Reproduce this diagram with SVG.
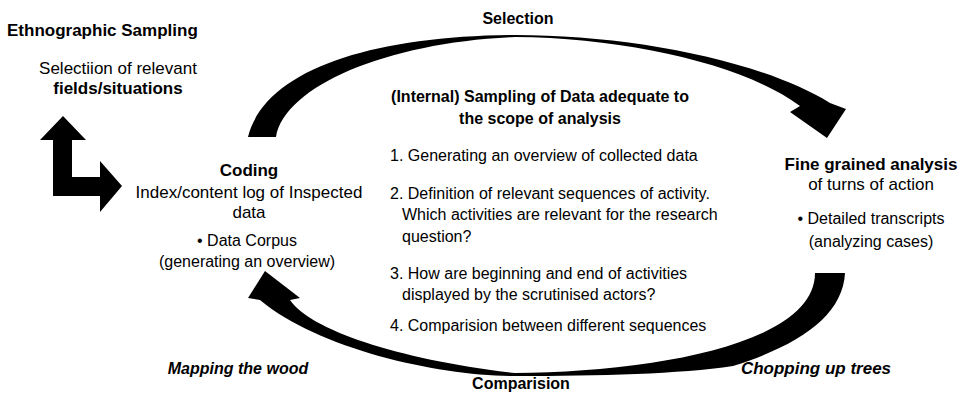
<svg xmlns="http://www.w3.org/2000/svg" width="962" height="394" viewBox="0 0 962 394">
<style>
text{font-family:"Liberation Sans",Arial,sans-serif;fill:#000}
.b{font-weight:bold}
.bi{font-weight:bold;font-style:italic}
.s16{font-size:16px}
.s17{font-size:17px}
.c{text-anchor:middle}
.arrow{fill:#000;stroke:none}
</style>
<rect width="962" height="394" fill="#fff"/>
<g id="connectors">
<path class="arrow" d="M248,137 C265,70 370,36 515,35 C630,35 760,60 830,103 L846,109 L827,138 L790,112 L800,106 C745,65 630,38 515,37 C390,42 285,85 276,137 Z"/>
<path class="arrow" d="M845,273 C843,315 800,345 733,366 C680,374 600,376 515,376 C440,376 320,350 260,300 L248,298 L265,271 L300,298 L290,300 C310,330 400,360 515,373 C650,372 815,345 815,273 Z"/>
<path class="arrow" d="M63,116 L86,140 L72,140 L72,177 L100,177 L100,161 L122,186 L100,212 L100,196 L53,196 L53,140 L40,140 Z"/>
</g>
<g id="ethnographic">
<text class="b s17" x="7" y="36">Ethnographic Sampling</text>
<text class="s17 c" x="118" y="74">Selectiion of relevant</text>
<text class="b s17 c" x="118" y="94">fields/situations</text>
</g>
<g id="selection"><text class="b s16 c" x="518" y="24">Selection</text></g>
<g id="internal">
<text class="b s16 c" x="540" y="102">(Internal) Sampling of Data adequate to</text>
<text class="b s16 c" x="540" y="124">the scope of analysis</text>
<text class="s16" x="390" y="161">1. Generating an overview of collected data</text>
<text class="s16" x="390" y="199">2. Definition of relevant sequences of activity.</text>
<text class="s16" x="402" y="220">Which activities are relevant for the research</text>
<text class="s16" x="402" y="242">question?</text>
<text class="s16" x="390" y="279">3. How are beginning and end of activities</text>
<text class="s16" x="402" y="300">displayed by the scrutinised actors?</text>
<text class="s16" x="390" y="331">4. Comparision between different sequences</text>
</g>
<g id="coding">
<text class="b s17 c" x="249" y="176">Coding</text>
<text class="s17 c" x="249" y="198">Index/content log of Inspected</text>
<text class="s17 c" x="249" y="218">data</text>
<text class="s16 c" x="247" y="246">• Data Corpus</text>
<text class="s16 c" x="247" y="267">(generating an overview)</text>
</g>
<g id="fine">
<text class="b s17 c" x="871" y="170">Fine grained analysis</text>
<text class="s17 c" x="871" y="190">of turns of action</text>
<text class="s16 c" x="871" y="224">• Detailed transcripts</text>
<text class="s16 c" x="871" y="247">(analyzing cases)</text>
</g>
<g id="mapping"><text class="bi s16 c" x="238" y="374">Mapping the wood</text></g>
<g id="comparision"><text class="b s16 c" x="521" y="389">Comparision</text></g>
<g id="chopping"><text class="bi s17 c" x="816" y="374">Chopping up trees</text></g>
</svg>
